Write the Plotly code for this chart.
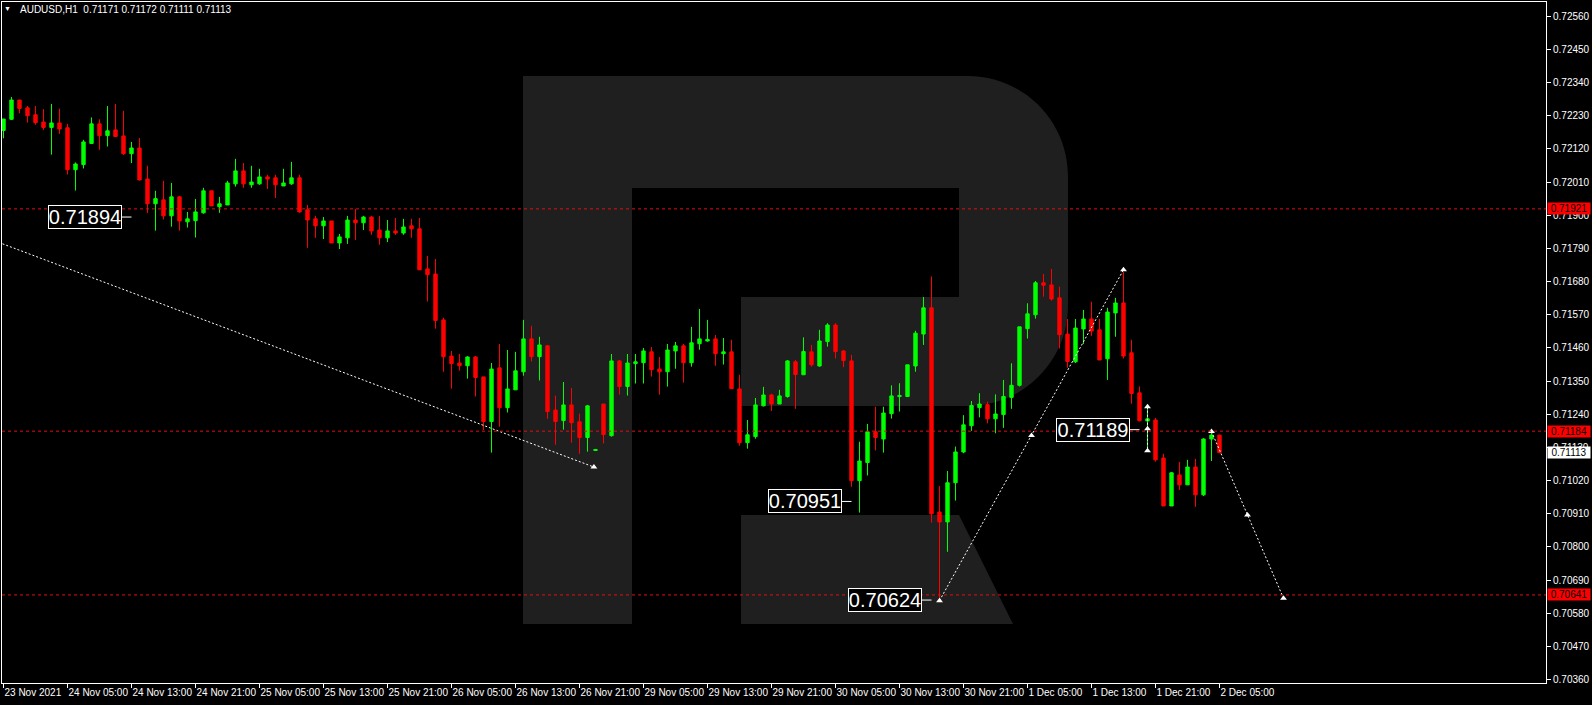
import plotly.graph_objects as go

# ---------------- data ----------------
symbol_title = "AUDUSD,H1\u00a0\u00a00.71171 0.71172 0.71111 0.71113"

tick_labels = ["23 Nov 2021", "24 Nov 05:00", "24 Nov 13:00", "24 Nov 21:00", "25 Nov 05:00",
               "25 Nov 13:00", "25 Nov 21:00", "26 Nov 05:00", "26 Nov 13:00", "26 Nov 21:00",
               "29 Nov 05:00", "29 Nov 13:00", "29 Nov 21:00", "30 Nov 05:00", "30 Nov 13:00",
               "30 Nov 21:00", "1 Dec 05:00", "1 Dec 13:00", "1 Dec 21:00", "2 Dec 05:00"]
tick_index = [0, 8, 16, 24, 32, 40, 48, 56, 64, 72, 80, 88, 96, 104, 112, 120, 128, 136, 144, 152]

price_ticks = [0.70360, 0.70470, 0.70580, 0.70690, 0.70800, 0.70910, 0.71020, 0.71130, 0.71240,
               0.71350, 0.71460, 0.71570, 0.71680, 0.71790, 0.71900, 0.72010, 0.72120, 0.72230,
               0.72340, 0.72450, 0.72560]

opens = [0.72181, 0.72218, 0.72282, 0.72256, 0.72233, 0.72209, 0.72191, 0.72206, 0.72190, 0.72051,
         0.72068, 0.72138, 0.72203, 0.72164, 0.72183, 0.72163, 0.72104, 0.72123, 0.72020, 0.71938,
         0.71951, 0.71898, 0.71961, 0.71878, 0.71882, 0.71908, 0.71981, 0.71928, 0.71934, 0.72004,
         0.72047, 0.72001, 0.72004, 0.72027, 0.72024, 0.71997, 0.72004, 0.72024, 0.71918, 0.71888,
         0.71865, 0.71881, 0.71808, 0.71825, 0.71884, 0.71875, 0.71894, 0.71851, 0.71825, 0.71848,
         0.71841, 0.71865, 0.71855, 0.71722, 0.71705, 0.71553, 0.71433, 0.71410, 0.71401, 0.71430,
         0.71364, 0.71216, 0.71394, 0.71262, 0.71321, 0.71381, 0.71490, 0.71431, 0.71467, 0.71254,
         0.71219, 0.71271, 0.71215, 0.71163, 0.71120, 0.71274, 0.71169, 0.71417, 0.71332, 0.71408,
         0.71411, 0.71447, 0.71390, 0.71381, 0.71450, 0.71467, 0.71411, 0.71474, 0.71483, 0.71490,
         0.71441, 0.71447, 0.71324, 0.71146, 0.71166, 0.71268, 0.71304, 0.71274, 0.71299, 0.71414,
         0.71371, 0.71447, 0.71400, 0.71481, 0.71536, 0.71450, 0.71417, 0.71020, 0.71080, 0.71182,
         0.71158, 0.71242, 0.71299, 0.71299, 0.71400, 0.71506, 0.71593, 0.70916, 0.70883, 0.71013,
         0.71115, 0.71202, 0.71262, 0.71272, 0.71225, 0.71239, 0.71296, 0.71336, 0.71524, 0.71570,
         0.71676, 0.71669, 0.71626, 0.71506, 0.71414, 0.71523, 0.71556, 0.71520, 0.71424, 0.71576,
         0.71609, 0.71444, 0.71311, 0.71218, 0.71221, 0.71095, 0.70936, 0.71039, 0.71006, 0.71065,
         0.70973, 0.71158, 0.71171]

highs = [0.72219, 0.72292, 0.72282, 0.72262, 0.72262, 0.72252, 0.72269, 0.72253, 0.72203, 0.72075,
         0.72150, 0.72224, 0.72218, 0.72262, 0.72269, 0.72246, 0.72143, 0.72156, 0.72064, 0.71981,
         0.72014, 0.72007, 0.71964, 0.71911, 0.71954, 0.71991, 0.71981, 0.71961, 0.72014, 0.72087,
         0.72073, 0.72064, 0.72054, 0.72034, 0.72034, 0.72054, 0.72077, 0.72034, 0.71934, 0.71898,
         0.71894, 0.71881, 0.71838, 0.71898, 0.71921, 0.71898, 0.71898, 0.71898, 0.71884, 0.71891,
         0.71888, 0.71888, 0.71891, 0.71765, 0.71755, 0.71560, 0.71450, 0.71440, 0.71433, 0.71433,
         0.71364, 0.71410, 0.71473, 0.71453, 0.71447, 0.71553, 0.71533, 0.71497, 0.71470, 0.71302,
         0.71347, 0.71327, 0.71242, 0.71271, 0.71125, 0.71274, 0.71440, 0.71420, 0.71440, 0.71440,
         0.71460, 0.71463, 0.71430, 0.71473, 0.71480, 0.71473, 0.71530, 0.71589, 0.71553, 0.71503,
         0.71493, 0.71487, 0.71371, 0.71221, 0.71294, 0.71331, 0.71308, 0.71321, 0.71420, 0.71420,
         0.71495, 0.71470, 0.71520, 0.71542, 0.71542, 0.71453, 0.71437, 0.71149, 0.71208, 0.71265,
         0.71265, 0.71336, 0.71343, 0.71404, 0.71517, 0.71629, 0.71697, 0.71002, 0.71052, 0.71133,
         0.71237, 0.71284, 0.71310, 0.71282, 0.71306, 0.71354, 0.71409, 0.71530, 0.71608, 0.71682,
         0.71705, 0.71722, 0.71663, 0.71556, 0.71556, 0.71586, 0.71613, 0.71556, 0.71593, 0.71626,
         0.71712, 0.71487, 0.71332, 0.71261, 0.71228, 0.71109, 0.71049, 0.71082, 0.71089, 0.71092,
         0.71161, 0.71182, 0.71172]

lows = [0.72155, 0.72216, 0.72238, 0.72207, 0.72200, 0.72183, 0.72101, 0.72170, 0.72035, 0.71982,
        0.72055, 0.72137, 0.72117, 0.72128, 0.72161, 0.72100, 0.72073, 0.72015, 0.71907, 0.71849,
        0.71886, 0.71862, 0.71849, 0.71859, 0.71826, 0.71905, 0.71931, 0.71908, 0.71934, 0.71995,
        0.71991, 0.71991, 0.72001, 0.71987, 0.71957, 0.71997, 0.72001, 0.71908, 0.71792, 0.71825,
        0.71821, 0.71808, 0.71788, 0.71805, 0.71818, 0.71851, 0.71835, 0.71802, 0.71811, 0.71835,
        0.71835, 0.71825, 0.71719, 0.71614, 0.71524, 0.71381, 0.71325, 0.71385, 0.71358, 0.71299,
        0.71188, 0.71113, 0.71199, 0.71246, 0.71321, 0.71368, 0.71415, 0.71352, 0.71225, 0.71139,
        0.71189, 0.71146, 0.71109, 0.71116, 0.71120, 0.71143, 0.71166, 0.71305, 0.71302, 0.71342,
        0.71342, 0.71365, 0.71305, 0.71332, 0.71391, 0.71345, 0.71398, 0.71454, 0.71481, 0.71401,
        0.71405, 0.71325, 0.71136, 0.71126, 0.71159, 0.71266, 0.71251, 0.71274, 0.71295, 0.71258,
        0.71371, 0.71398, 0.71398, 0.71464, 0.71425, 0.71396, 0.71000, 0.70914, 0.71037, 0.71120,
        0.71113, 0.71226, 0.71249, 0.71299, 0.71381, 0.71470, 0.70881, 0.70624, 0.70784, 0.70954,
        0.71111, 0.71185, 0.71230, 0.71210, 0.71177, 0.71195, 0.71258, 0.71332, 0.71491, 0.71557,
        0.71630, 0.71617, 0.71458, 0.71394, 0.71410, 0.71473, 0.71500, 0.71420, 0.71354, 0.71497,
        0.71425, 0.71275, 0.71216, 0.71125, 0.71083, 0.70936, 0.70936, 0.70989, 0.71006, 0.70933,
        0.70969, 0.71085, 0.71111]

closes = [0.72219, 0.72282, 0.72254, 0.72230, 0.72207, 0.72191, 0.72206, 0.72186, 0.72051, 0.72070,
          0.72143, 0.72203, 0.72164, 0.72180, 0.72161, 0.72104, 0.72123, 0.72017, 0.71938, 0.71955,
          0.71898, 0.71961, 0.71881, 0.71888, 0.71911, 0.71981, 0.71931, 0.71938, 0.72007, 0.72047,
          0.72004, 0.72010, 0.72027, 0.72020, 0.72001, 0.72007, 0.72024, 0.71911, 0.71884, 0.71865,
          0.71881, 0.71808, 0.71828, 0.71884, 0.71875, 0.71894, 0.71848, 0.71825, 0.71848, 0.71841,
          0.71861, 0.71855, 0.71719, 0.71703, 0.71551, 0.71431, 0.71408, 0.71401, 0.71430, 0.71362,
          0.71216, 0.71390, 0.71262, 0.71324, 0.71384, 0.71490, 0.71431, 0.71470, 0.71249, 0.71216,
          0.71271, 0.71212, 0.71163, 0.71268, 0.71123, 0.71173, 0.71417, 0.71332, 0.71410, 0.71414,
          0.71450, 0.71388, 0.71381, 0.71453, 0.71467, 0.71411, 0.71477, 0.71490, 0.71488, 0.71441,
          0.71447, 0.71325, 0.71146, 0.71172, 0.71271, 0.71304, 0.71274, 0.71301, 0.71417, 0.71372,
          0.71448, 0.71404, 0.71483, 0.71536, 0.71448, 0.71418, 0.71020, 0.71085, 0.71182, 0.71163,
          0.71244, 0.71301, 0.71302, 0.71404, 0.71509, 0.71593, 0.70910, 0.70883, 0.71013, 0.71115,
          0.71205, 0.71269, 0.71274, 0.71225, 0.71241, 0.71299, 0.71336, 0.71530, 0.71573, 0.71676,
          0.71668, 0.71622, 0.71504, 0.71415, 0.71526, 0.71556, 0.71516, 0.71420, 0.71579, 0.71609,
          0.71433, 0.71309, 0.71219, 0.71225, 0.71089, 0.70936, 0.71046, 0.71006, 0.71065, 0.70973,
          0.71158, 0.71171, 0.71113]

# horizontal levels (red dashed) and right-axis badges
level_prices = [0.71921, 0.71184, 0.70641]
last_price = 0.71113

# labelled price points: text, price, candle index where the pointer ends
label_texts = ["0.71894", "0.70951", "0.70624", "0.71189"]
label_prices = [0.71894, 0.70951, 0.70624, 0.71189]
label_index = [16.0, 106.0, 116.0, 142.0]

# forecast / analysis dotted lines (index, price)
trend_a_x = [-2.0, 73.8]
trend_a_y = [0.71824, 0.71065]
path_b_x = [117.0, 128.5, 140.0]
path_b_y = [0.70622, 0.71170, 0.71719]
path_c_x = [151.0, 155.5, 160.0]
path_c_y = [0.71183, 0.70906, 0.70630]
range_v_x = [143.0, 143.0, 143.0]
range_v_y = [0.71265, 0.71192, 0.71119]

# ---------------- layout constants ----------------
W, H = 1592, 705
ML, MR, MT, MB = 2, 46, 2, 22
PW, PH = W - ML - MR, H - MT - MB
FONT = "Liberation Sans, Arial, sans-serif"


def px(x):
    return (x - ML) / PW


def py(y):
    return (H - MB - y) / PH


def pt(x, y):
    return f"{px(x):.5f},{py(y):.5f}"


fig = go.Figure()

fig.add_trace(go.Candlestick(
    x=list(range(len(opens))), open=opens, high=highs, low=lows, close=closes,
    increasing=dict(line=dict(color="#00ff00", width=1), fillcolor="#00ff00"),
    decreasing=dict(line=dict(color="#ff0000", width=1), fillcolor="#ff0000"),
    whiskerwidth=0, hoverinfo="skip", showlegend=False,
))

dot_line = dict(color="white", width=1, dash="2px,2px")
mk = dict(symbol="triangle-up", size=6, color="white")
fig.add_trace(go.Scatter(x=trend_a_x, y=trend_a_y, mode="lines", line=dot_line,
                         hoverinfo="skip", showlegend=False))
fig.add_trace(go.Scatter(x=trend_a_x[1:], y=trend_a_y[1:], mode="markers", marker=mk,
                         hoverinfo="skip", showlegend=False))
for xs, ys in [(path_b_x, path_b_y), (path_c_x, path_c_y), (range_v_x, range_v_y)]:
    fig.add_trace(go.Scatter(x=xs, y=ys, mode="lines+markers", line=dot_line, marker=mk,
                             hoverinfo="skip", showlegend=False))

shapes = []
# watermark "R"
r_outer = ("M " + pt(523, 76) + " L " + pt(968, 76) +
           " C " + pt(1023, 76) + " " + pt(1068, 121) + " " + pt(1068, 176) +
           " L " + pt(1068, 306) +
           " C " + pt(1068, 361) + " " + pt(1023, 406) + " " + pt(968, 406) +
           " L " + pt(741, 406) + " L " + pt(741, 297) + " L " + pt(959, 297) +
           " L " + pt(959, 188) + " L " + pt(632, 188) + " L " + pt(632, 624) +
           " L " + pt(523, 624) + " Z")
r_leg = ("M " + pt(741, 515) + " L " + pt(959, 515) + " L " + pt(1013, 624) +
         " L " + pt(741, 624) + " Z")
for p in (r_outer, r_leg):
    shapes.append(dict(type="path", xref="paper", yref="paper", path=p,
                       fillcolor="#1f1f1f", line=dict(width=0), layer="below"))

for lv in level_prices:
    shapes.append(dict(type="line", xref="paper", yref="y", x0=0, x1=1, y0=lv, y1=lv,
                       line=dict(color="#e01010", width=1, dash="3px,3px")))

for xi, pr in zip(label_index, label_prices):
    shapes.append(dict(type="line", xref="x", yref="y", x0=xi - 1.25, x1=xi, y0=pr, y1=pr,
                       line=dict(color="white", width=1)))

annotations = []
for txt, xi, pr in zip(label_texts, label_index, label_prices):
    annotations.append(dict(x=xi - 1.25, y=pr, xref="x", yref="y", text=txt, showarrow=False,
                            xanchor="right", yanchor="middle",
                            font=dict(family=FONT, size=20, color="white"),
                            bgcolor="black", bordercolor="white", borderwidth=1, borderpad=0,
                            width=72, height=22))

for lv in level_prices:
    annotations.append(dict(x=1, y=lv, xref="paper", yref="y", text=f"{lv:.5f}", showarrow=False,
                            xanchor="left", yanchor="middle", xshift=1,
                            font=dict(family=FONT, size=10, color="black"),
                            bgcolor="#ff0000", borderpad=0, width=42, height=11))
annotations.append(dict(x=1, y=last_price, xref="paper", yref="y", text=f"{last_price:.5f}",
                        showarrow=False, xanchor="left", yanchor="middle", xshift=1,
                        font=dict(family=FONT, size=10, color="black"),
                        bgcolor="white", borderpad=0, width=42, height=11))

annotations.append(dict(x=px(18), y=py(10), xref="paper", yref="paper", text=symbol_title,
                        showarrow=False, xanchor="left", yanchor="middle",
                        font=dict(family=FONT, size=10, color="white")))
annotations.append(dict(x=px(7.5), y=py(9), xref="paper", yref="paper", text="\u25bc",
                        showarrow=False, xanchor="center", yanchor="middle",
                        font=dict(family=FONT, size=7, color="white")))

fig.update_layout(
    width=W, height=H,
    margin=dict(l=ML, r=MR, t=MT, b=MB, pad=0, autoexpand=False),
    paper_bgcolor="black", plot_bgcolor="black",
    font=dict(family=FONT, size=10, color="white"),
    showlegend=False, boxgap=0.4,
    shapes=shapes, annotations=annotations,
    xaxis=dict(range=[-0.1875, 192.8125], showgrid=False, zeroline=False,
               showline=True, linecolor="white", linewidth=1, mirror=True,
               ticks="outside", ticklen=4, tickcolor="white",
               tickvals=tick_index, ticktext=tick_labels, tickangle=0,
               ticklabelposition="outside right", automargin=False,
               tickfont=dict(family=FONT, size=10, color="white"),
               rangeslider=dict(visible=False), fixedrange=True),
    yaxis=dict(range=[0.70349, 0.72607], side="right", showgrid=False, zeroline=False,
               showline=True, linecolor="white", linewidth=1, mirror=True,
               ticks="outside", ticklen=4, tickcolor="white", automargin=False,
               tickvals=price_ticks, ticktext=[f"{v:.5f}" for v in price_ticks],
               tickfont=dict(family=FONT, size=10, color="white"), fixedrange=True),
)

fig.write_html("out.html",
               config={"displayModeBar": False},
               post_script="document.body.style.margin='0';"
                           "document.body.style.background='black';")
